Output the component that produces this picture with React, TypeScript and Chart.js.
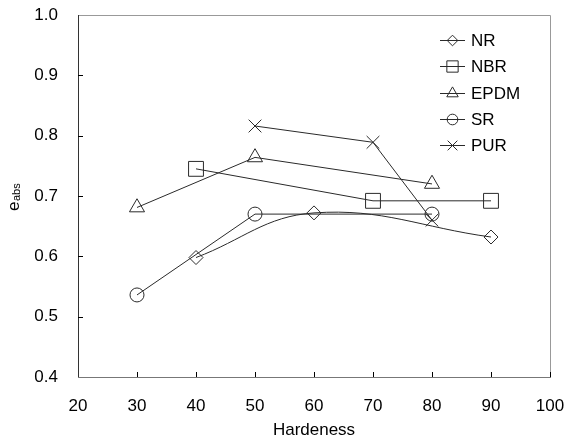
import React, { useEffect, useRef } from "react";
import { Chart, registerables } from "chart.js";

Chart.register(...registerables);

const seriesNames = ["NR", "NBR", "EPDM", "SR", "PUR"];
const nrX = [40, 60, 90];
const nrY = [0.598, 0.672, 0.632];
const nbrX = [40, 70, 90];
const nbrY = [0.745, 0.692, 0.692];
const epdmX = [30, 50, 80];
const epdmY = [0.681, 0.764, 0.72];
const srX = [30, 50, 80];
const srY = [0.536, 0.67, 0.67];
const purX = [50, 70, 80];
const purY = [0.816, 0.789, 0.66];

const xTicks = [20, 30, 40, 50, 60, 70, 80, 90, 100];
const yTicks = [0.4, 0.5, 0.6, 0.7, 0.8, 0.9, 1.0];

const FONT = '"Liberation Sans", Arial, sans-serif';
const LINE = "#2a2a2a";

const pts = (xs: number[], ys: number[]) => xs.map((x, i) => ({ x, y: ys[i] }));

const styles: { ps: string; r: number }[] = [
  { ps: "rectRot", r: 7 },
  { ps: "rect", r: 10.5 },
  { ps: "triangle", r: 8.7 },
  { ps: "circle", r: 7 },
  { ps: "crossRot", r: 9 },
];

function drawMarker(ctx: CanvasRenderingContext2D, ps: string, r: number, x: number, y: number) {
  const Q = Math.PI / 4;
  ctx.beginPath();
  if (ps === "rectRot") {
    ctx.moveTo(x - r, y);
    ctx.lineTo(x, y - r);
    ctx.lineTo(x + r, y);
    ctx.lineTo(x, y + r);
    ctx.closePath();
  } else if (ps === "rect") {
    const s = Math.SQRT1_2 * r;
    ctx.rect(x - s, y - s, 2 * s, 2 * s);
  } else if (ps === "triangle") {
    let rad = 0;
    ctx.moveTo(x + Math.sin(rad) * r, y - Math.cos(rad) * r);
    rad += (2 * Math.PI) / 3;
    ctx.lineTo(x + Math.sin(rad) * r, y - Math.cos(rad) * r);
    rad += (2 * Math.PI) / 3;
    ctx.lineTo(x + Math.sin(rad) * r, y - Math.cos(rad) * r);
    ctx.closePath();
  } else if (ps === "circle") {
    ctx.arc(x, y, r, 0, Math.PI * 2);
  } else if (ps === "crossRot") {
    const o = Math.cos(Q) * r;
    ctx.moveTo(x - o, y - o);
    ctx.lineTo(x + o, y + o);
    ctx.moveTo(x + o, y - o);
    ctx.lineTo(x - o, y + o);
  }
  ctx.stroke();
}

const overlay = {
  id: "overlay",
  afterDraw(chart: any) {
    const ctx = chart.ctx as CanvasRenderingContext2D;
    const { left, right, top, bottom } = chart.chartArea;
    const xs = chart.scales.x;
    const ys = chart.scales.y;
    ctx.save();
    ctx.lineWidth = 1;
    ctx.strokeStyle = "#999";
    ctx.beginPath();
    ctx.moveTo(left, top + 0.5);
    ctx.lineTo(right + 0.5, top + 0.5);
    ctx.lineTo(right + 0.5, bottom);
    ctx.stroke();
    ctx.strokeStyle = "#333";
    ctx.beginPath();
    ctx.moveTo(left + 0.5, top);
    ctx.lineTo(left + 0.5, bottom);
    ctx.stroke();
    ctx.strokeStyle = "#777";
    ctx.beginPath();
    ctx.moveTo(left, bottom + 0.5);
    ctx.lineTo(right + 1, bottom + 0.5);
    ctx.stroke();
    ctx.strokeStyle = "#000";
    ctx.beginPath();
    xTicks.forEach((v) => {
      if (v === xTicks[0]) return;
      const px = Math.round(xs.getPixelForValue(v)) + 0.5;
      ctx.moveTo(px, bottom);
      ctx.lineTo(px, bottom - 5);
    });
    yTicks.forEach((v) => {
      if (v === yTicks[0] || v === yTicks[yTicks.length - 1]) return;
      const py = Math.round(ys.getPixelForValue(v)) + 0.5;
      ctx.moveTo(left, py);
      ctx.lineTo(left + 5, py);
    });
    ctx.stroke();
    seriesNames.forEach((name, i) => {
      const y = Math.round(40 + i * 26.3) + 0.5;
      ctx.strokeStyle = LINE;
      ctx.lineWidth = 1;
      ctx.beginPath();
      ctx.moveTo(440, y);
      ctx.lineTo(465, y);
      ctx.stroke();
      drawMarker(ctx, styles[i].ps, styles[i].r * 0.76, 452.5, y);
      ctx.fillStyle = "#000";
      ctx.font = `17px ${FONT}`;
      ctx.textAlign = "left";
      ctx.textBaseline = "middle";
      ctx.fillText(name, 471, y + 0.5);
    });
    ctx.save();
    ctx.translate(18.5, 211);
    ctx.rotate(-Math.PI / 2);
    ctx.fillStyle = "#000";
    ctx.textAlign = "left";
    ctx.textBaseline = "alphabetic";
    ctx.font = `17px ${FONT}`;
    ctx.fillText("e", 0, 0);
    const w = ctx.measureText("e").width;
    ctx.font = `11px ${FONT}`;
    ctx.fillText("abs", w + 0.5, 1.5);
    ctx.restore();
    ctx.restore();
  },
};

export default function App() {
  const ref = useRef<HTMLCanvasElement | null>(null);
  useEffect(() => {
    document.body.style.margin = "0";
    const data = [pts(nrX, nrY), pts(nbrX, nbrY), pts(epdmX, epdmY), pts(srX, srY), pts(purX, purY)];
    const zeroPad = (s: any) => {
      s.paddingLeft = 0;
      s.paddingRight = 0;
      s.paddingTop = 0;
      s.paddingBottom = 0;
    };
    const chart = new Chart(ref.current as HTMLCanvasElement, {
      type: "line",
      data: {
        datasets: seriesNames.map((name, i) => ({
          label: name,
          data: data[i],
          borderColor: LINE,
          borderWidth: 1,
          backgroundColor: "rgba(0,0,0,0)",
          pointStyle: styles[i].ps as any,
          pointRadius: styles[i].r,
          pointHoverRadius: styles[i].r,
          pointBorderColor: LINE,
          pointBorderWidth: 1,
          pointBackgroundColor: "rgba(0,0,0,0)",
          tension: i === 0 ? 0.4 : 0,
          fill: false,
        })),
      },
      plugins: [overlay],
      options: {
        animation: false,
        responsive: true,
        maintainAspectRatio: false,
        layout: { padding: { top: 15, right: 17, left: 0, bottom: 0 } },
        plugins: {
          legend: { display: false },
          tooltip: { enabled: false },
        },
        scales: {
          x: {
            type: "linear",
            min: 20,
            max: 100,
            border: { display: false },
            grid: { display: false, drawTicks: false },
            ticks: {
              stepSize: 10,
              padding: 19,
              color: "#000",
              font: { family: FONT, size: 17 },
              maxRotation: 0,
            },
            title: {
              display: true,
              text: "Hardeness",
              color: "#000",
              font: { family: FONT, size: 17 },
              padding: { top: 0, bottom: -2 },
            },
            afterFit: (s: any) => {
              s.height = 62;
              zeroPad(s);
            },
          },
          y: {
            type: "linear",
            min: 0.4,
            max: 1.0,
            border: { display: false },
            grid: { display: false, drawTicks: false },
            ticks: {
              stepSize: 0.1,
              padding: 20,
              color: "#000",
              font: { family: FONT, size: 17 },
              callback: (v: any) => Number(v).toFixed(1),
            },
            afterFit: (s: any) => {
              s.width = 78;
              zeroPad(s);
            },
          },
        },
      },
    });
    return () => chart.destroy();
  }, []);
  return (
    <div style={{ position: "absolute", left: 0, top: 0, width: 567, height: 439 }}>
      <canvas ref={ref} />
    </div>
  );
}
